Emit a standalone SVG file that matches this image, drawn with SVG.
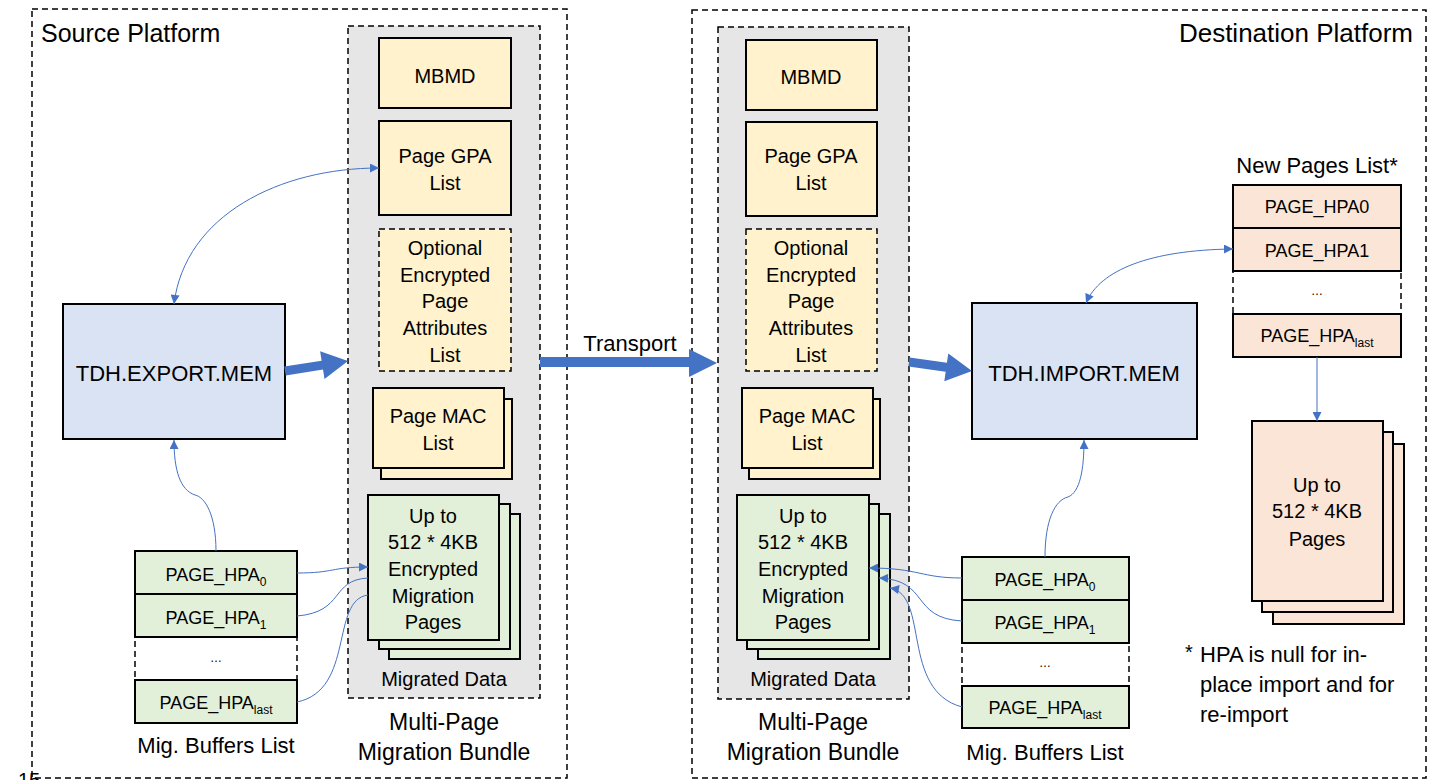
<svg xmlns="http://www.w3.org/2000/svg" width="1435" height="780" viewBox="0 0 1435 780">
<style>
text{font-family:"Liberation Sans",Arial,sans-serif;fill:#000}
.c{text-anchor:middle}
.f20{font-size:20px}
.f18{font-size:18px}
.f22{font-size:22px}
.f23{font-size:23px}
.f25{font-size:25px}
.sub{font-size:12px}
.dots{font-size:12px}
.plat{fill:none;stroke:#000;stroke-width:1.5;stroke-dasharray:6,4}
.bundle{fill:#e7e6e6;stroke:#000;stroke-width:1.5;stroke-dasharray:6,4}
.y{fill:#fff2cc;stroke:#000;stroke-width:2}
.yd{fill:#fff2cc;stroke:#000;stroke-width:1.5;stroke-dasharray:6,4}
.g{fill:#e2f0d9;stroke:#000;stroke-width:2}
.o{fill:#fbe5d6;stroke:#000;stroke-width:2}
.b{fill:#dae3f3;stroke:#000;stroke-width:2}
.wd{fill:#fff;stroke:#000;stroke-width:1.5;stroke-dasharray:6,4}
.con{fill:none;stroke:#4472c4;stroke-width:1}
.thick{fill:#4472c4}
</style>
<defs>
<marker id="ah" viewBox="0 0 10 10" refX="10" refY="5" markerWidth="10" markerHeight="9" markerUnits="userSpaceOnUse" orient="auto-start-reverse">
<path d="M0,0 L10,5 L0,10 Z" fill="#4472c4"/>
</marker>
</defs>

<g id="source-platform">
<rect class="plat" x="32" y="9" width="535" height="769"/>
<text class="f25" x="41" y="42">Source Platform</text>
</g>
<g id="destination-platform">
<rect class="plat" x="692" y="10" width="734" height="768"/>
<text x="1413" y="42" text-anchor="end" style="font-size:26px">Destination Platform</text>
</g>
<text x="18" y="787" style="font-size:20px">15</text>

<g id="src-bundle">
<rect class="bundle" x="348" y="26" width="192" height="672"/>
<text class="f20 c" x="444" y="686">Migrated Data</text>
<text class="f23 c" x="444" y="730">Multi-Page</text>
<text class="f23 c" x="444" y="760">Migration Bundle</text>
</g>
<g id="src-mbmd">
<rect class="y" x="379" y="38" width="132" height="70"/>
<text class="f20 c" x="445" y="83">MBMD</text>
</g>
<g id="src-gpa">
<rect class="y" x="379" y="121" width="132" height="94"/>
<text class="f20 c" x="445" y="163">Page GPA</text>
<text class="f20 c" x="445" y="190">List</text>
</g>
<g id="src-attr">
<rect class="yd" x="379" y="229" width="132" height="142"/>
<text class="f20 c" x="445" y="255">Optional</text>
<text class="f20 c" x="445" y="282">Encrypted</text>
<text class="f20 c" x="445" y="308">Page</text>
<text class="f20 c" x="445" y="335">Attributes</text>
<text class="f20 c" x="445" y="362">List</text>
</g>
<g id="src-mac">
<rect class="y" x="381" y="399" width="131" height="80"/>
<rect class="y" x="373" y="388" width="131" height="80"/>
<text class="f20 c" x="438" y="423">Page MAC</text>
<text class="f20 c" x="438" y="450">List</text>
</g>
<g id="src-pages">
<rect class="g" x="389" y="514" width="131" height="145"/>
<rect class="g" x="379" y="504" width="131" height="145"/>
<rect class="g" x="368" y="495" width="131" height="145"/>
<text class="f20 c" x="433" y="523">Up to</text>
<text class="f20 c" x="433" y="549">512 * 4KB</text>
<text class="f20 c" x="433" y="576">Encrypted</text>
<text class="f20 c" x="433" y="603">Migration</text>
<text class="f20 c" x="433" y="629">Pages</text>
</g>
<g id="tdh-export">
<rect class="b" x="63" y="304" width="222" height="135"/>
<text class="f22 c" x="174" y="381">TDH.EXPORT.MEM</text>
</g>
<g id="src-buffers">
<rect class="wd" x="135" y="637" width="162" height="43"/>
<text class="dots c" x="216" y="662">…</text>
<rect class="g" x="135" y="551" width="162" height="43"/>
<text class="f18 c" x="216" y="581">PAGE_HPA<tspan class="sub" dy="5">0</tspan></text>
<rect class="g" x="135" y="594" width="162" height="43"/>
<text class="f18 c" x="216" y="624">PAGE_HPA<tspan class="sub" dy="5">1</tspan></text>
<rect class="g" x="135" y="680" width="162" height="43"/>
<text class="f18 c" x="216" y="709">PAGE_HPA<tspan class="sub" dy="5">last</tspan></text>
<text class="f22 c" x="216" y="753">Mig. Buffers List</text>
</g>

<g id="dst-bundle">
<rect class="bundle" x="718" y="27" width="191" height="672"/>
<text class="f20 c" x="813" y="686">Migrated Data</text>
<text class="f23 c" x="813" y="730">Multi-Page</text>
<text class="f23 c" x="813" y="760">Migration Bundle</text>
</g>
<g id="dst-mbmd">
<rect class="y" x="746" y="40" width="131" height="70"/>
<text class="f20 c" x="811" y="84">MBMD</text>
</g>
<g id="dst-gpa">
<rect class="y" x="746" y="122" width="131" height="94"/>
<text class="f20 c" x="811" y="163">Page GPA</text>
<text class="f20 c" x="811" y="190">List</text>
</g>
<g id="dst-attr">
<rect class="yd" x="746" y="229" width="131" height="142"/>
<text class="f20 c" x="811" y="255">Optional</text>
<text class="f20 c" x="811" y="282">Encrypted</text>
<text class="f20 c" x="811" y="308">Page</text>
<text class="f20 c" x="811" y="335">Attributes</text>
<text class="f20 c" x="811" y="362">List</text>
</g>
<g id="dst-mac">
<rect class="y" x="749" y="399" width="131" height="80"/>
<rect class="y" x="742" y="388" width="131" height="80"/>
<text class="f20 c" x="807" y="423">Page MAC</text>
<text class="f20 c" x="807" y="450">List</text>
</g>
<g id="dst-pages">
<rect class="g" x="758" y="514" width="132" height="145"/>
<rect class="g" x="747" y="504" width="132" height="145"/>
<rect class="g" x="737" y="495" width="132" height="145"/>
<text class="f20 c" x="803" y="523">Up to</text>
<text class="f20 c" x="803" y="549">512 * 4KB</text>
<text class="f20 c" x="803" y="576">Encrypted</text>
<text class="f20 c" x="803" y="603">Migration</text>
<text class="f20 c" x="803" y="629">Pages</text>
</g>
<g id="tdh-import">
<rect class="b" x="972" y="303" width="225" height="136"/>
<text class="f22 c" x="1084" y="381">TDH.IMPORT.MEM</text>
</g>
<g id="dst-buffers">
<rect class="wd" x="962" y="643" width="167" height="43"/>
<text class="dots c" x="1045" y="667">…</text>
<rect class="g" x="962" y="557" width="167" height="43"/>
<text class="f18 c" x="1045" y="586">PAGE_HPA<tspan class="sub" dy="5">0</tspan></text>
<rect class="g" x="962" y="600" width="167" height="43"/>
<text class="f18 c" x="1045" y="629">PAGE_HPA<tspan class="sub" dy="5">1</tspan></text>
<rect class="g" x="962" y="686" width="167" height="42"/>
<text class="f18 c" x="1045" y="714">PAGE_HPA<tspan class="sub" dy="5">last</tspan></text>
<text class="f22 c" x="1045" y="760">Mig. Buffers List</text>
</g>
<g id="new-pages-list">
<text class="f22 c" x="1317" y="173">New Pages List*</text>
<rect class="wd" x="1233" y="271" width="168" height="43"/>
<text class="dots c" x="1317" y="295">…</text>
<rect class="o" x="1233" y="185" width="168" height="43"/>
<text class="f18 c" x="1317" y="213">PAGE_HPA0</text>
<rect class="o" x="1233" y="228" width="168" height="43"/>
<text class="f18 c" x="1317" y="257">PAGE_HPA1</text>
<rect class="o" x="1233" y="314" width="168" height="43"/>
<text class="f18 c" x="1317" y="342">PAGE_HPA<tspan class="sub" dy="5">last</tspan></text>
</g>
<g id="new-pages">
<rect class="o" x="1273" y="444" width="131" height="180"/>
<rect class="o" x="1262" y="432" width="131" height="180"/>
<rect class="o" x="1252" y="421" width="131" height="180"/>
<text class="f20 c" x="1317" y="492">Up to</text>
<text class="f20 c" x="1317" y="518">512 * 4KB</text>
<text class="f20 c" x="1317" y="546">Pages</text>
</g>
<g id="footnote">
<text class="f20" x="1185" y="659">*</text>
<text class="f22" x="1200" y="662">HPA is null for in-</text>
<text class="f22" x="1200" y="692">place import and for</text>
<text class="f22" x="1200" y="722">re-import</text>
</g>

<g id="connectors">
<polygon class="thick" points="284.3,366.6 321.6,360.7 320.1,351.3 348,361 324.5,378.9 323,369.5 285.7,375.4"/>
<polygon class="thick" points="540,357 689,357 689,349 717,363 689,377 689,367 540,367"/>
<text class="f22 c" x="630" y="351">Transport</text>
<polygon class="thick" points="909.6,357.5 946.9,362.8 948.3,353.4 972,371 944.3,381.2 945.7,371.8 908.4,366.5"/>
<path class="con" d="M379,168 C280,168 185,215 174,304" marker-start="url(#ah)" marker-end="url(#ah)"/>
<path class="con" d="M216,551 C216,515 205,497 195,495 C180,490 174,470 174,440" marker-end="url(#ah)"/>
<path class="con" d="M297,573 C335,573 330,567 368,567" marker-end="url(#ah)"/>
<path class="con" d="M297,616 C345,612 330,580 368,578"/>
<path class="con" d="M297,702 C355,690 330,600 368,595"/>
<path class="con" d="M1233,249 C1150,250 1100,270 1086,303" marker-start="url(#ah)" marker-end="url(#ah)"/>
<path class="con" d="M1045,557 C1045,520 1055,500 1068,497 C1080,492 1084,470 1084,440" marker-end="url(#ah)"/>
<path class="con" d="M962,578 C920,578 920,568 869,568" marker-end="url(#ah)"/>
<path class="con" d="M962,621 C910,618 930,580 879,578" marker-end="url(#ah)"/>
<path class="con" d="M962,707 C900,690 930,595 890,588" marker-end="url(#ah)"/>
<path class="con" d="M1317,357 L1317,421" marker-end="url(#ah)"/>
</g>
</svg>
